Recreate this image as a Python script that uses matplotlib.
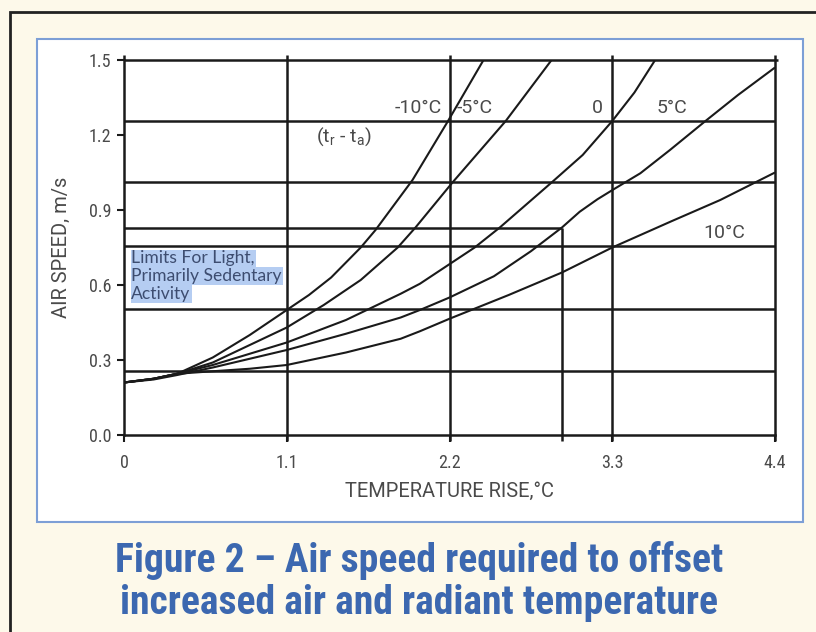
import matplotlib
matplotlib.use("Agg")
import matplotlib.pyplot as plt
from matplotlib.patches import Rectangle

# ---------------- data ----------------
x_ticks = [0, 1.1, 2.2, 3.3, 4.4]
x_tick_labels = ["0", "1.1", "2.2", "3.3", "4.4"]
y_ticks = [0.0, 0.3, 0.6, 0.9, 1.2, 1.5]
y_tick_labels = ["0.0", "0.3", "0.6", "0.9", "1.2", "1.5"]

grid_x = [1.1, 2.2, 3.3, 4.4]
grid_y = [0.255, 0.505, 0.755, 1.014, 1.256, 1.5]

limit_temp = 2.96
limit_speed = 0.83

t_m10 = [0, 0.2, 0.36, 0.6, 0.85, 1.1, 1.25, 1.4, 1.6, 1.7, 1.95, 2.19, 2.43]
v_m10 = [0.21, 0.225, 0.245, 0.31, 0.40, 0.50, 0.56, 0.63, 0.75, 0.82, 1.02, 1.256, 1.5]

t_m5 = [0, 0.2, 0.36, 0.6, 0.85, 1.1, 1.35, 1.6, 1.85, 1.97, 2.22, 2.58, 2.89]
v_m5 = [0.21, 0.225, 0.245, 0.29, 0.36, 0.43, 0.52, 0.62, 0.75, 0.83, 1.01, 1.256, 1.5]

t_0 = [0, 0.2, 0.36, 0.6, 0.85, 1.1, 1.5, 1.87, 2.0, 2.37, 2.54, 2.89, 3.1, 3.30, 3.45, 3.59]
v_0 = [0.21, 0.225, 0.245, 0.28, 0.325, 0.37, 0.46, 0.565, 0.605, 0.75, 0.83, 1.01, 1.12, 1.256, 1.37, 1.5]

t_5 = [0, 0.2, 0.36, 0.6, 0.85, 1.1, 1.5, 1.87, 2.0, 2.2, 2.5, 2.75, 2.96, 3.08, 3.2, 3.31,
       3.49, 3.69, 3.93, 4.15, 4.4]
v_5 = [0.21, 0.222, 0.24, 0.27, 0.305, 0.34, 0.405, 0.47, 0.50, 0.55, 0.635, 0.735, 0.83, 0.893,
       0.943, 0.983, 1.047, 1.14, 1.256, 1.36, 1.47]

t_10 = [0, 0.2, 0.36, 0.6, 0.85, 1.1, 1.5, 1.87, 2.0, 2.2, 2.6, 2.96, 3.3, 3.7, 4.03, 4.4]
v_10 = [0.21, 0.225, 0.245, 0.255, 0.265, 0.28, 0.33, 0.385, 0.415, 0.465, 0.56, 0.65, 0.75,
        0.855, 0.94, 1.05]

curve_labels = ["-10°C", "-5°C", "0", "5°C", "10°C"]

title_lines = ["Figure 2 \u2013 Air speed required to offset",
               "increased air and radiant temperature"]
limit_lines = ["Limits For Light,", "Primarily Sedentary", "Activity"]

# ---------------- style ----------------
W, H = 816, 632
BG = "#fdf9ea"
LINE = "#1a1a1a"
TXT = "#4a4a4a"
BLUE = "#3c68b0"
NARROW = ["Roboto Condensed", "Liberation Sans Narrow", "Roboto", "DejaVu Sans"]
MID = ["Roboto", "DejaVu Sans"]
REG = ["Lato", "DejaVu Sans"]

fig = plt.figure(figsize=(W / 100, H / 100), dpi=100)
fig.patch.set_facecolor(BG)

def fx(px):
    return px / W

def fy(py):
    return 1 - py / H

# outer dark frame (left and top) and blue-bordered white panel
fig.add_artist(Rectangle((fx(10), fy(700)), fx(900), fy(12) - fy(700), transform=fig.transFigure,
                         facecolor="none", edgecolor="#222222", lw=2.0, zorder=-10))
fig.add_artist(Rectangle((fx(37), fy(522)), fx(803 - 37), fy(39) - fy(522), transform=fig.transFigure,
                         facecolor="white", edgecolor="#7d9fd6", lw=1.5, zorder=-9))

ax = fig.add_axes([fx(124), fy(435), fx(775 - 124), fy(60) - fy(435)])
ax.set_facecolor("none")
ax.set_xlim(0, 4.4)
ax.set_ylim(0, 1.5)

for s in ["top", "right"]:
    ax.spines[s].set_visible(False)
for s in ["left", "bottom"]:
    ax.spines[s].set_color(LINE)
    ax.spines[s].set_linewidth(1.8)

# grid lines
ax.vlines(grid_x, -0.025, 1.52, colors=LINE, lw=1.8, clip_on=False, zorder=2)
ax.vlines([0], 1.5, 1.52, colors=LINE, lw=1.8, clip_on=False, zorder=2)
ax.hlines(grid_y, 0, 4.4, colors=LINE, lw=1.8, clip_on=False, zorder=2)
ax.hlines([1.5], 4.4, 4.42, colors=LINE, lw=1.8, clip_on=False, zorder=2)

# limit box lines
ax.hlines([limit_speed], 0, limit_temp, colors=LINE, lw=1.8, zorder=2)
ax.vlines([limit_temp], -0.025, limit_speed, colors=LINE, lw=1.8, clip_on=False, zorder=2)

# curves
for t, v in [(t_m10, v_m10), (t_m5, v_m5), (t_0, v_0), (t_5, v_5), (t_10, v_10)]:
    ax.plot(t, v, color=LINE, lw=1.5, zorder=3, solid_capstyle="butt", solid_joinstyle="round")

# ticks
ax.set_xticks(x_ticks)
ax.set_xticklabels(x_tick_labels)
ax.set_yticks(y_ticks)
ax.set_yticklabels(y_tick_labels)
ax.tick_params(axis="both", direction="out", length=5, width=1.5, color=LINE,
               labelcolor=TXT, labelsize=13)
ax.tick_params(axis="x", pad=9)
ax.tick_params(axis="y", pad=4)
for lab in ax.get_xticklabels() + ax.get_yticklabels():
    lab.set_family(NARROW)

ax.set_xlabel("TEMPERATURE RISE,°C", family=MID, fontsize=14.5, color=TXT, labelpad=7)
ax.set_ylabel("AIR SPEED, m/s", family=MID, fontsize=14.5, color=TXT, labelpad=13)

# curve labels
lab_kw = dict(family=MID, fontsize=14, color=TXT, zorder=4)
ax.text(2.15, 1.272, curve_labels[0], ha="right", va="bottom", **lab_kw)
ax.text(2.25, 1.272, curve_labels[1], ha="left", va="bottom", **lab_kw)
ax.text(3.24, 1.272, curve_labels[2], ha="right", va="bottom", **lab_kw)
ax.text(3.6, 1.272, curve_labels[3], ha="left", va="bottom", **lab_kw)
ax.text(4.2, 0.77, curve_labels[4], ha="right", va="bottom", **lab_kw)
ax.text(1.3, 1.24, "(t$_\\mathregular{r}$ - t$_\\mathregular{a}$)", ha="left", va="top", **lab_kw)

# limits note with highlight
for i, line in enumerate(limit_lines):
    ax.text(0.05, 0.738 - i * 0.071, line, ha="left", va="top", family=REG, fontsize=12.6,
            color="#3d4d70", zorder=4,
            bbox=dict(boxstyle="square,pad=0.05", facecolor="#b5cdf2", edgecolor="none"))

# title
for i, line in enumerate(title_lines):
    fig.text(fx(419), fy(561 + i * 42), line, ha="center", va="center", family=NARROW,
             fontsize=28.5, fontweight="bold", color=BLUE)

fig.savefig("out.png", dpi=100, facecolor=BG)
